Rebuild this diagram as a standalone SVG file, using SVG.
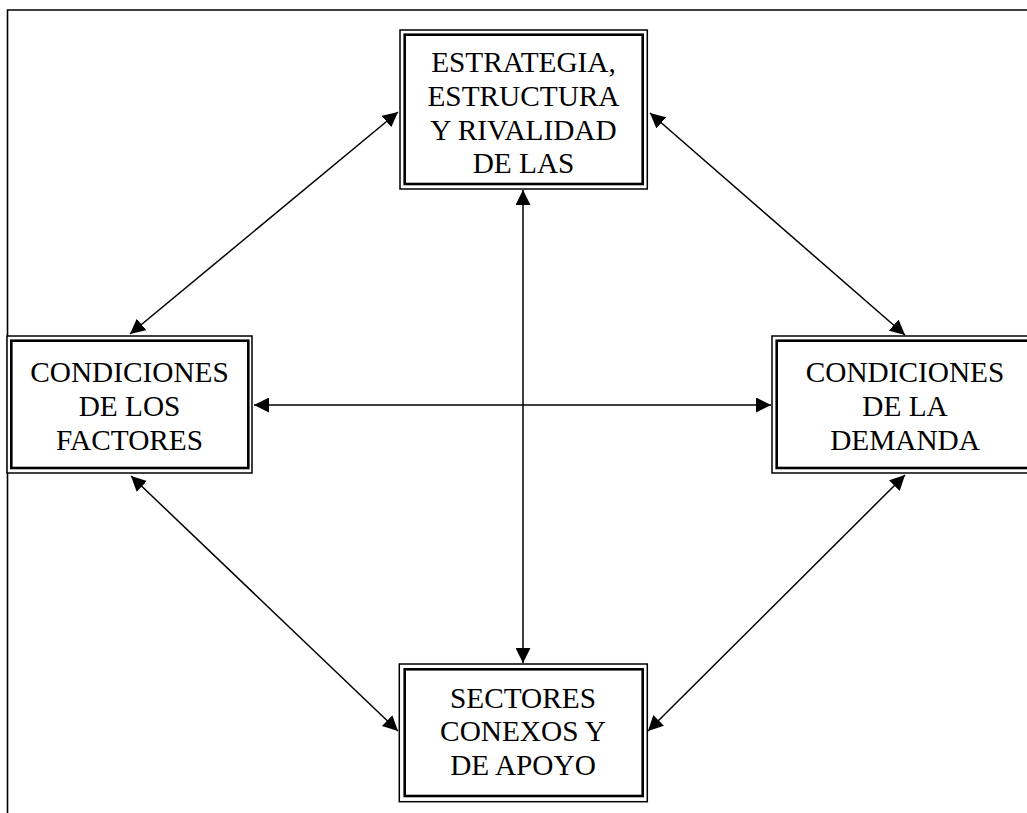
<svg xmlns="http://www.w3.org/2000/svg" width="1027" height="813" viewBox="0 0 1027 813">
  <style>
    .frame { fill: none; stroke: #000; stroke-width: 1.6; }
    .outer { fill: #fff; stroke: #000; stroke-width: 1.5; }
    .inner { fill: none; stroke: #000; stroke-width: 2.6; }
    .lbl { font-family: "Liberation Serif", "Times New Roman", serif; font-size: 29.3px; fill: #000; text-anchor: middle; }
    .conn { fill: none; stroke: #000; stroke-width: 1.5; marker-start: url(#arr); marker-end: url(#arr); }
  </style>
  <defs>
    <marker id="arr" markerUnits="userSpaceOnUse" markerWidth="16" markerHeight="15" refX="15" refY="7.5" orient="auto-start-reverse" viewBox="0 0 16 15">
      <path d="M0,0 L15,7.5 L0,15 Z" fill="#000"/>
    </marker>
  </defs>
  <rect width="1027" height="813" fill="#fff"/>
  <path class="frame" d="M7.5,813 V10 H1027"/>

  <g id="connectors">
    <line class="conn" x1="398" y1="112" x2="130" y2="334"/>
    <line class="conn" x1="650" y1="113" x2="905" y2="335"/>
    <line class="conn" x1="131" y1="476" x2="398" y2="731"/>
    <line class="conn" x1="905" y1="475" x2="648" y2="731"/>
    <line class="conn" x1="523" y1="190" x2="523" y2="663"/>
    <line class="conn" x1="254" y1="405" x2="771" y2="405"/>
  </g>

  <g id="estrategia">
    <rect class="outer" x="400" y="30" width="247.3" height="159"/>
    <rect class="inner" x="404.7" y="34.7" width="238" height="149.3"/>
    <text class="lbl" x="523.5" y="72">ESTRATEGIA,</text>
    <text class="lbl" x="523.5" y="105.8">ESTRUCTURA</text>
    <text class="lbl" x="523.5" y="139.6">Y RIVALIDAD</text>
    <text class="lbl" x="523.5" y="173.4">DE LAS</text>
  </g>

  <g id="factores">
    <rect class="outer" x="7" y="336" width="245" height="137"/>
    <rect class="inner" x="11.3" y="340.7" width="237" height="127.3"/>
    <text class="lbl" x="129.5" y="381.5">CONDICIONES</text>
    <text class="lbl" x="129.5" y="415.5">DE LOS</text>
    <text class="lbl" x="129.5" y="449.5">FACTORES</text>
  </g>

  <g id="demanda">
    <rect class="outer" x="772" y="336" width="266" height="137"/>
    <rect class="inner" x="776.7" y="340.7" width="256.3" height="127.3"/>
    <text class="lbl" x="905" y="381.5">CONDICIONES</text>
    <text class="lbl" x="905" y="415.5">DE LA</text>
    <text class="lbl" x="905" y="449.5">DEMANDA</text>
  </g>

  <g id="sectores">
    <rect class="outer" x="399.3" y="664" width="248" height="137.7"/>
    <rect class="inner" x="404.7" y="669.3" width="238" height="126.7"/>
    <text class="lbl" x="523" y="707.5">SECTORES</text>
    <text class="lbl" x="523" y="741.3">CONEXOS Y</text>
    <text class="lbl" x="523" y="775.1">DE APOYO</text>
  </g>
</svg>
